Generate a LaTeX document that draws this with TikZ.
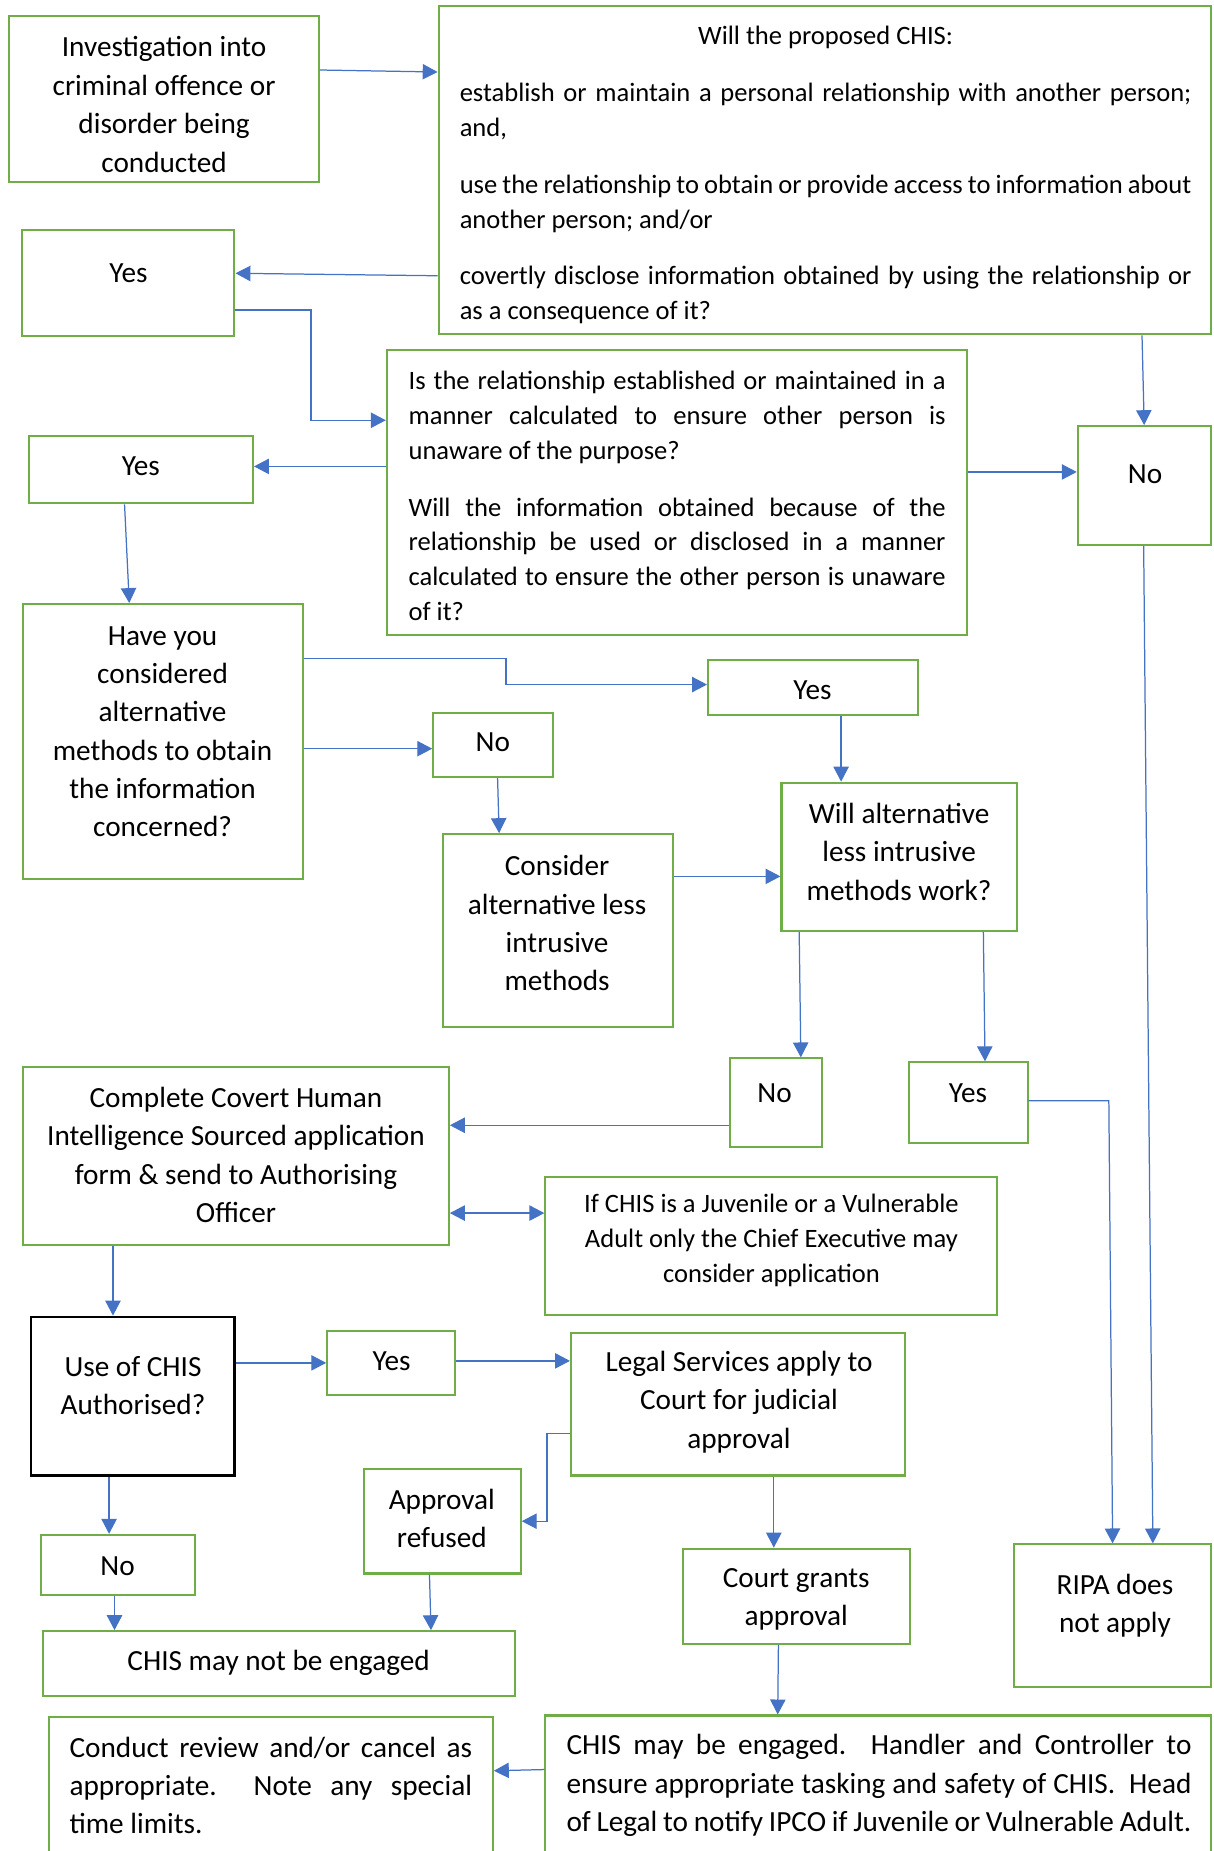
\documentclass[tikz,border=0pt]{standalone}
\usepackage{fontspec}
\setmainfont{Carlito}
\usetikzlibrary{arrows.meta,fit}
\definecolor{boxgreen}{HTML}{70AD47}
\definecolor{linkblue}{HTML}{4472C4}
\hyphenpenalty=10000
\exhyphenpenalty=10000
\tikzset{
  box/.style={draw=boxgreen,line width=1pt,inner sep=0pt},
  decision/.style={box,draw=black,line width=1.2pt},
  txt/.style={inner sep=0pt,align=center,font=\fontsize{14.1}{18.5}\selectfont},
  small txt/.style={txt,font=\fontsize{12.8}{16.9}\selectfont},
  para/.style={inner sep=0pt,align=justify,font=\fontsize{12.8}{16.8}\selectfont},
  wide para/.style={para,font=\fontsize{14.1}{18.4}\selectfont},
  link/.style={draw=linkblue,line width=0.6pt,-{Triangle[length=7.2pt,width=7.4pt]}},
  both link/.style={link,{Triangle[length=7.2pt,width=7.4pt]}-{Triangle[length=7.2pt,width=7.4pt]}}
}

\begin{document}
\begin{tikzpicture}[x=0.02cm,y=-0.02cm]
  \useasboundingbox (0,0) rectangle (1028,1568);
  \clip (0,0) rectangle (1028,1568);

  % boxes, by their corners
  \node[box,fit={(7.9,13.4) (270,154.2)}] (inv) {};
  \node[box,fit={(371.6,5) (1025.5,283.2)}] (propose) {};
  \node[box,fit={(18.4,195) (198.6,284.8)}] (yesA) {};
  \node[box,fit={(327.7,296.6) (819.3,538)}] (relation) {};
  \node[box,fit={(913,361) (1025.5,461.5)}] (noA) {};
  \node[box,fit={(24.9,369.6) (214.3,426.3)}] (yesB) {};
  \node[box,fit={(19.7,511.7) (257,744.8)}] (alt) {};
  \node[box,fit={(599.8,559.4) (777.4,605.7)}] (yesC) {};
  \node[box,fit={(367,603.7) (468.7,658.2)}] (noB) {};
  \node[box,fit={(374.9,706.6) (570.3,869.8)}] (consider) {};
  \node[box,fit={(662,663) (861.2,788.7)}] (work) {};
  \node[box,fit={(618,896.6) (696,972)}] (noC) {};
  \node[box,fit={(770.2,899.9) (870.5,968.6)}] (yesD) {};
  \node[box,fit={(19.7,904) (380.2,1054.6)}] (apply) {};
  \node[box,fit={(462,996.7) (844.2,1113.8)}] (juvenile) {};
  \node[decision,fit={(26.2,1115.5) (198.6,1249.9)}] (auth) {};
  \node[box,fit={(277.2,1127.4) (385.4,1181.7)}] (yesE) {};
  \node[box,fit={(483.7,1129.2) (766.9,1249.9)}] (legal) {};
  \node[box,fit={(308,1244.3) (441.1,1332.9)}] (refused) {};
  \node[box,fit={(578.8,1311.9) (770.8,1392.4)}] (grants) {};
  \node[box,fit={(34.7,1300.2) (165.2,1351.3)}] (noD) {};
  \node[box,fit={(36.7,1381.8) (435.9,1436.3)}] (notengaged) {};
  \node[box,fit={(859.3,1308.3) (1025.5,1429.3)}] (ripa) {};
  \node[box,fit={(462,1453.2) (1025.5,1600)}] (engaged) {};
  \node[box,fit={(41.3,1454.6) (417.5,1600)}] (review) {};

  % texts
  \node[txt] (inv-t) at (139,88.5) {Investigation into\\criminal offence or\\disorder being\\conducted};
  \node[para,text width=12.4cm] (propose-t) at (699.4,148.4) {\setlength{\parskip}{10.6pt}%
    \makebox[\linewidth]{Will the proposed CHIS:}\par
    establish or maintain a personal relationship with another person;\linebreak and,\par
    use the relationship to obtain or provide access to information about\linebreak another person; and/or\par
    covertly disclose information obtained by using the relationship or\linebreak as a consequence of it?};
  \node[txt] (yesA-t) at (108.8,231.2) {Yes};
  \node[para,text width=9.1cm] (relation-t) at (573.6,420.2) {\setlength{\parskip}{10.6pt}%
    Is the relationship established or maintained in a\linebreak manner calculated to ensure other person is\linebreak unaware of the purpose?\par
    Will the information obtained because of the\linebreak relationship be used or disclosed in a manner\linebreak calculated to ensure the other person is unaware\linebreak of it?};
  \node[txt] (noA-t) at (970,402) {No};
  \node[txt] (yesB-t) at (119.3,394.7) {Yes};
  \node[txt] (alt-t) at (137.7,619.9) {Have you\\considered\\alternative\\methods to obtain\\the information\\concerned?};
  \node[txt] (yesC-t) at (688.2,585) {Yes};
  \node[txt] (noB-t) at (417.5,629.1) {No};
  \node[txt] (consider-t) at (471.9,782) {Consider\\alternative less\\intrusive\\methods};
  \node[txt] (work-t) at (761.6,721.4) {Will alternative\\less intrusive\\methods work?};
  \node[txt] (noC-t) at (656.1,925.7) {No};
  \node[txt] (yesD-t) at (820,925.7) {Yes};
  \node[txt] (apply-t) at (199.9,978.3) {Complete Covert Human\\Intelligence Sourced application\\form \& send to Authorising\\Officer};
  \node[small txt] (juvenile-t) at (653.5,1051.1) {If CHIS is a Juvenile or a Vulnerable\\Adult only the Chief Executive may\\consider application};
  \node[txt] (auth-t) at (112.7,1173.6) {Use of CHIS\\Authorised?};
  \node[txt] (yesE-t) at (331.7,1153.5) {Yes};
  \node[txt] (legal-t) at (626,1187.8) {Legal Services apply to\\Court for judicial\\approval};
  \node[txt] (refused-t) at (374.3,1286.1) {Approval\\refused};
  \node[txt] (grants-t) at (674.5,1354.7) {Court grants\\approval};
  \node[txt] (noD-t) at (99.6,1326.6) {No};
  \node[txt] (notengaged-t) at (236,1408.2) {CHIS may not be engaged};
  \node[txt] (ripa-t) at (944.5,1360) {RIPA does\\not apply};
  \node[wide para,text width=10.59cm] (engaged-t) at (744.6,1512.5) {CHIS may be engaged.\ \ Handler and Controller to\linebreak ensure appropriate tasking and safety of CHIS.\ \ Head\linebreak of Legal to notify IPCO if Juvenile or Vulnerable Adult.};
  \node[wide para,text width=6.82cm] (review-t) at (229.4,1512.5) {Conduct review and/or cancel as\linebreak appropriate.\ \ Note any special\linebreak time limits.};

  % connectors
  \draw[link] (inv.east |- 0,59.3) -- (propose.west |- 0,61);
  \draw[link] (propose.west |- 0,233.6) -- (yesA.east |- 0,231.5);
  \draw[link] (yesA.east |- 0,262.7) -| (263.5,356) -- (relation.west |- 0,356);
  \draw[link] (propose.south -| 967.4,0) -- (noA.north);
  \draw[link] (relation.east |- 0,399.8) -- (noA.west |- 0,399.8);
  \draw[link] (relation.west |- 0,395.1) -- (yesB.east |- 0,395.1);
  \draw[link] (yesB.south -| 105.5,0) -- (alt.north -| 109.5,0);
  \draw[link] (alt.east |- 0,557.7) -| (428.7,579.9) -- (yesC.west |- 0,579.9);
  \draw[link] (alt.east |- 0,634.2) -- (noB.west |- 0,634.2);
  \draw[link] (noB.south -| 421.5,0) -- (consider.north -| 422.8,0);
  \draw[link] (yesC.south -| 712.5,0) -- (work.north -| 712.5,0);
  \draw[link] (consider.east |- 0,742.4) -- (work.west |- 0,742.4);
  \draw[link] (work.south -| 677,0) -- (noC.north -| 678.4,0);
  \draw[link] (work.south -| 833,0) -- (yesD.north -| 834.4,0);
  \draw[link] (noC.west |- 0,953.2) -- (apply.east |- 0,953.2);
  \draw[both link] (apply.east |- 0,1027.6) -- (juvenile.west |- 0,1027.6);
  \draw[link] (yesD.east |- 0,932.4) -- (939.3,932.4) -- (ripa.north -| 942.5,0);
  \draw[link] (noA.south -| 968.8,0) -- (ripa.north -| 976.6,0);
  \draw[link] (apply.south -| 95.7,0) -- (auth.north -| 95.7,0);
  \draw[link] (auth.east |- 0,1154.5) -- (yesE.west |- 0,1154.5);
  \draw[link] (yesE.east |- 0,1152.8) -- (legal.west |- 0,1152.8);
  \draw[link] (legal.west |- 0,1214) -| (463.4,1288.6) -- (refused.east |- 0,1288.6);
  \draw[link] (legal.south -| 655.5,0) -- (grants.north -| 655.5,0);
  \draw[link] (auth.south -| 92.4,0) -- (noD.north -| 92.4,0);
  \draw[link] (noD.south -| 97,0) -- (notengaged.north -| 97,0);
  \draw[link] (refused.south -| 363.8,0) -- (notengaged.north -| 365.1,0);
  \draw[link] (grants.south -| 659.4,0) -- (engaged.north -| 658.8,0);
  \draw[link] (engaged.west |- 0,1499) -- (review.east |- 0,1500);
\end{tikzpicture}
\end{document}
